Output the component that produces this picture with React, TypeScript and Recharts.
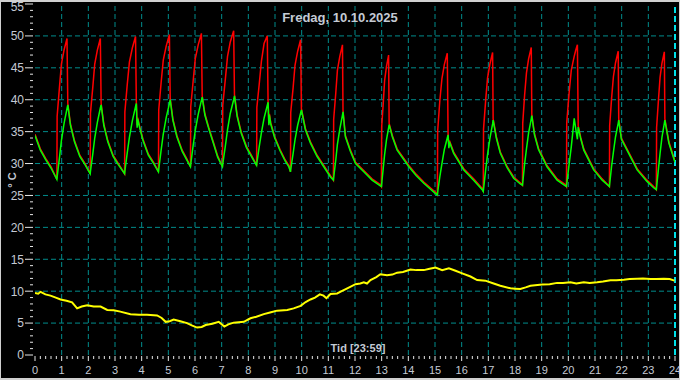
import { LineChart, Line, XAxis, YAxis, ReferenceLine } from "recharts";

// [tid (h), tur °C, retur °C]
const boilerLog: [number, number, number][] = [
  [0, 34.6, 34.4], [0.2, 32.3, 32.1], [0.4, 30.8, 30.6], [0.6, 29.5, 29.3],
  [0.82, 27.5, 27.5], [0.83, 37.4, 27.9], [0.92, 42.1, 31.0], [0.99, 45.6, 33.6], [1.09, 47.8, 36.3], [1.2, 49.6, 38.6], [1.23, 39.4, 39.2],
  [1.33, 36.2, 36.0], [1.48, 33.6, 33.4], [1.68, 31.3, 31.1], [1.88, 30.0, 29.8],
  [2.07, 28.4, 28.4], [2.08, 37.9, 28.8], [2.17, 42.1, 31.6], [2.24, 45.6, 34.0], [2.34, 47.8, 36.5], [2.45, 49.6, 38.7], [2.48, 39.4, 39.2],
  [2.58, 36.2, 36.0], [2.73, 33.6, 33.4], [2.93, 31.3, 31.1], [3.13, 30.0, 29.8],
  [3.36, 28.4, 28.4], [3.37, 38.1, 28.8], [3.46, 42.4, 31.7], [3.54, 45.9, 34.1], [3.65, 48.1, 36.7], [3.77, 49.9, 38.9], [3.8, 39.6, 39.4],
  [3.83, 36.0, 35.6], [3.85, 37.2, 37.0], [3.92, 35.9, 35.7], [4.05, 33.8, 33.6], [4.25, 31.5, 31.3], [4.45, 30.2, 30.0],
  [4.63, 28.7, 28.7], [4.64, 38.4, 29.1], [4.73, 42.7, 32.1], [4.81, 46.2, 34.6], [4.92, 48.4, 37.2], [5.04, 50.2, 39.4], [5.07, 40.2, 40.0],
  [5.17, 37.0, 36.8], [5.32, 34.4, 34.2], [5.52, 32.1, 31.9], [5.7, 30.7, 30.5],
  [5.83, 29.5, 29.5], [5.84, 38.9, 29.9], [5.93, 42.9, 32.8], [6.01, 46.4, 35.2], [6.12, 48.6, 37.7], [6.24, 50.4, 39.9], [6.27, 40.6, 40.4],
  [6.37, 37.8, 37.6], [6.52, 35.6, 35.4], [6.68, 33.5, 33.3], [6.85, 31.2, 31.0],
  [7.03, 29.5, 29.5], [7.04, 39.1, 29.9], [7.14, 43.3, 32.8], [7.22, 46.8, 35.3], [7.32, 49.0, 37.8], [7.45, 50.8, 40.0], [7.48, 40.8, 40.6],
  [7.58, 37.6, 37.4], [7.73, 35.0, 34.8], [7.93, 32.7, 32.5], [8.13, 31.2, 31.0],
  [8.31, 29.7, 29.7], [8.32, 38.8, 30.1], [8.41, 42.5, 32.7], [8.49, 46.0, 34.8], [8.59, 48.8, 37.1], [8.71, 50.0, 39.1], [8.74, 39.8, 39.6],
  [8.77, 36.3, 36.0], [8.79, 37.8, 37.6], [8.84, 36.4, 36.2], [8.99, 34.2, 34.0], [9.19, 32.2, 32.0], [9.38, 30.6, 30.4], [9.52, 29.7, 29.5],
  [9.58, 28.7, 28.7], [9.59, 38.0, 29.1], [9.68, 41.9, 31.6], [9.75, 45.4, 33.7], [9.85, 47.6, 36.0], [9.96, 49.4, 37.9], [9.99, 38.6, 38.4],
  [10.14, 35.5, 35.3], [10.33, 33.4, 33.2], [10.58, 31.3, 31.1], [10.83, 29.7, 29.5], [11.08, 28.1, 27.9],
  [11.19, 27.4, 27.4], [11.2, 36.9, 27.8], [11.28, 41.1, 30.6], [11.34, 44.6, 33.0], [11.43, 46.8, 35.4], [11.53, 48.6, 37.6], [11.55, 38.3, 38.1],
  [11.64, 34.4, 34.2], [11.83, 32.1, 31.9], [12.02, 30.2, 30.0], [12.33, 28.9, 28.7], [12.64, 27.6, 27.4], [12.95, 26.7, 26.5],
  [12.99, 26.4, 26.4], [13.0, 35.7, 26.8], [13.06, 39.5, 29.3], [13.11, 43.0, 31.4], [13.18, 45.2, 33.7], [13.26, 47.0, 35.6], [13.28, 36.3, 36.1],
  [13.4, 34.4, 34.2], [13.58, 32.3, 32.1], [14.02, 29.7, 29.5], [14.3, 28.3, 28.1], [14.58, 27.1, 26.9], [15.02, 25.5, 25.3],
  [15.09, 25.1, 25.1], [15.1, 35.1, 25.5], [15.18, 39.8, 27.9], [15.26, 43.3, 30.0], [15.35, 45.5, 32.2], [15.46, 47.3, 34.0], [15.49, 34.7, 34.5],
  [15.52, 32.6, 32.4], [15.54, 33.6, 33.4], [15.7, 31.8, 31.6], [16.08, 29.2, 29.0], [16.45, 27.6, 27.4], [16.77, 26.1, 25.9],
  [16.81, 25.6, 25.6], [16.82, 35.4, 26.0], [16.9, 39.9, 29.0], [16.97, 43.4, 31.4], [17.06, 45.6, 34.0], [17.16, 47.4, 36.2], [17.18, 37.0, 36.8],
  [17.3, 34.2, 34.0], [17.45, 31.8, 31.6], [17.71, 29.5, 29.3], [17.95, 27.9, 27.7], [18.2, 27.0, 26.8],
  [18.28, 26.6, 26.6], [18.29, 36.3, 27.0], [18.36, 40.7, 29.9], [18.43, 44.2, 32.3], [18.51, 46.4, 34.8], [18.61, 48.2, 37.0], [18.63, 37.7, 37.5],
  [18.73, 34.7, 34.5], [18.88, 32.4, 32.2], [19.2, 29.7, 29.5], [19.58, 27.6, 27.4], [19.89, 26.7, 26.5],
  [19.93, 26.4, 26.4], [19.94, 36.4, 26.8], [20.03, 41.1, 29.9], [20.11, 44.6, 32.6], [20.17, 45.8, 35.0], [20.22, 46.8, 37.1],
  [20.28, 47.8, 35.4], [20.34, 48.6, 33.8], [20.37, 35.9, 35.7],
  [20.47, 34.0, 33.8], [20.58, 32.3, 32.1], [20.95, 29.2, 29.0], [21.27, 27.6, 27.4],
  [21.54, 26.4, 26.4], [21.55, 35.9, 26.8], [21.62, 40.1, 29.5], [21.69, 43.6, 31.8], [21.77, 45.8, 34.2], [21.87, 47.6, 36.3], [21.89, 37.0, 36.8],
  [21.99, 34.0, 33.8], [22.2, 32.3, 32.1], [22.58, 29.2, 29.0], [22.95, 27.4, 27.2], [23.2, 26.4, 26.2],
  [23.3, 25.9, 25.9], [23.31, 35.6, 26.3], [23.38, 40.0, 29.2], [23.44, 43.5, 31.6], [23.51, 45.7, 34.1], [23.6, 47.5, 36.3], [23.62, 37.0, 36.8],
  [23.77, 33.4, 33.2], [23.9, 31.7, 31.5], [24, 30.4, 30.2],
];

// [tid (h), ute °C]
const outdoorLog: [number, number][] = [
  [0, 9.7], [0.12, 9.6], [0.21, 9.9], [0.39, 9.5], [0.58, 9.3], [0.78, 9.0], [0.96, 8.7], [1.18, 8.5], [1.39, 8.25],
  [1.58, 7.3], [1.75, 7.6], [1.96, 7.8], [2.2, 7.6], [2.46, 7.6], [2.71, 7.05], [2.95, 7.0], [3.2, 6.8], [3.58, 6.4],
  [3.9, 6.3], [4.2, 6.3], [4.58, 6.2], [4.75, 5.8], [4.9, 5.2], [5.05, 5.3], [5.2, 5.55], [5.45, 5.3], [5.7, 5.0],
  [5.9, 4.6], [6.08, 4.3], [6.25, 4.4], [6.4, 4.7], [6.65, 4.9], [6.89, 5.2], [7.1, 4.45], [7.25, 4.8], [7.45, 5.07],
  [7.83, 5.2], [8.08, 5.75], [8.3, 6.0], [8.58, 6.4], [8.85, 6.7], [9.08, 6.95], [9.46, 7.05], [9.7, 7.3], [9.96, 7.7],
  [10.15, 8.3], [10.33, 8.7], [10.5, 9.0], [10.68, 9.5], [10.82, 9.3], [10.93, 8.9], [11.08, 9.55], [11.33, 9.65],
  [11.5, 10.0], [11.71, 10.45], [12.02, 11.1], [12.2, 11.2], [12.33, 11.4], [12.45, 11.2], [12.58, 11.75], [12.8, 12.2],
  [12.95, 12.65], [13.2, 12.5], [13.4, 12.6], [13.58, 12.9], [13.8, 13.0], [14.08, 13.4], [14.3, 13.3], [14.58, 13.3],
  [14.8, 13.5], [15.02, 13.7], [15.27, 13.3], [15.52, 13.6], [15.77, 13.2], [16.02, 12.8], [16.33, 12.3], [16.58, 11.75],
  [16.89, 11.65], [17.2, 11.2], [17.45, 10.85], [17.83, 10.45], [18.0, 10.4], [18.2, 10.35], [18.4, 10.6], [18.58, 10.85],
  [19.02, 11.05], [19.3, 11.1], [19.58, 11.3], [19.8, 11.3], [20.08, 11.4], [20.3, 11.2], [20.58, 11.4], [20.8, 11.3],
  [21.08, 11.4], [21.3, 11.5], [21.58, 11.7], [21.8, 11.7], [22.08, 11.8], [22.3, 11.9], [22.58, 11.95], [22.8, 12.0],
  [23.08, 11.9], [23.3, 11.9], [23.58, 11.95], [23.8, 11.9], [23.98, 11.65],
];

const hourLabels = [0, 1, 2, 3, 4, 5, 6, 7, 8, 9, 10, 11, 12, 13, 14, 15, 16, 17, 18, 19, 20, 21, 22, 23, 24];
const degreeLabels = [0, 5, 10, 15, 20, 25, 30, 35, 40, 45, 50, 55];

const gridHours = hourLabels.slice(1, 24);
const gridDegrees = degreeLabels.slice(1, 11);
const xTicks = Array.from({ length: 121 }, (_, i) => Math.round(i * 2) / 10);
const yTicks = Array.from({ length: 56 }, (_, i) => i);

const rows = boilerLog.map(([t, tur, retur]) => ({ t, tur, retur }));
const outdoor = outdoorLog.map(([t, v]) => ({ t, v }));

const FONT = '"Liberation Sans", Arial, sans-serif';
const LABEL = "#c4cad4";
const TICK = "#e6e6e6";
const GRID = "#008c8c";

function XTick({ x, y, payload }: any) {
  const v = payload.value as number;
  const major = Math.abs(v - Math.round(v)) < 1e-6;
  return (
    <g>
      <line x1={x} x2={x} y1={y + 1} y2={y + (major ? 6 : 4)} stroke={TICK} />
      {major && (
        <text x={x} y={y + 19} textAnchor="middle" fill={LABEL} fontSize={11} fontFamily={FONT}>
          {Math.round(v)}
        </text>
      )}
    </g>
  );
}

function YTick({ x, y, payload }: any) {
  const v = payload.value as number;
  const major = v % 5 === 0;
  // top label sits against the frame, nudge it down a little so it stays readable
  const nudge = v === 55 ? 3 : 0;
  return (
    <g>
      <line x1={x - (major ? 10 : 5)} x2={x - 2} y1={y} y2={y} stroke={TICK} />
      {major && (
        <text x={x - 11} y={y + nudge} dy="0.36em" textAnchor="end" fill={LABEL} fontSize={12} fontFamily={FONT}>
          {v}
        </text>
      )}
    </g>
  );
}

export default function App() {
  return (
    <div style={{ position: "absolute", left: 0, top: 0, width: 680, height: 380, background: "#000" }}>
      <LineChart width={680} height={380} data={rows} margin={{ top: 4, right: 5, bottom: 0, left: 0 }}>
        <XAxis
          type="number"
          dataKey="t"
          domain={[0, 24]}
          ticks={xTicks}
          interval={0}
          tick={<XTick />}
          tickLine={false}
          axisLine={false}
          tickSize={0}
          tickMargin={0}
          height={25}
          allowDataOverflow
        />
        <YAxis
          type="number"
          domain={[0, 55]}
          ticks={yTicks}
          interval={0}
          tick={<YTick />}
          tickLine={false}
          axisLine={false}
          tickSize={0}
          tickMargin={0}
          width={35}
          allowDataOverflow
        />
        {gridDegrees.map((d) => (
          <ReferenceLine key={"y" + d} y={d} stroke={GRID} strokeDasharray="5 3" />
        ))}
        {gridHours.map((h) => (
          <ReferenceLine key={"x" + h} x={h} stroke={GRID} strokeDasharray="5 3" />
        ))}
        <ReferenceLine x={24} stroke="#00e0e8" strokeWidth={2} strokeDasharray="6 3" />
        <Line type="linear" dataKey="tur" stroke="#ff0000" strokeWidth={1.5} dot={false} isAnimationActive={false} />
        <Line type="linear" dataKey="retur" stroke="#00ff00" strokeWidth={1.5} dot={false} isAnimationActive={false} />
        <Line type="linear" data={outdoor} dataKey="v" stroke="#ffff00" strokeWidth={2} dot={false} isAnimationActive={false} />
      </LineChart>
      <div
        style={{
          position: "absolute", left: 0, top: 9, width: 680, textAlign: "center",
          font: `bold 13px ${FONT}`, lineHeight: "17px", color: LABEL,
        }}
      >
        Fredag, 10.10.2025
      </div>
      <div
        style={{
          position: "absolute", left: 298, top: 340, width: 120, textAlign: "center",
          font: `bold 11px ${FONT}`, lineHeight: "16px", color: LABEL,
        }}
      >
        Tid [23:59]
      </div>
      <div
        style={{
          position: "absolute", left: 12, top: 180, transform: "translate(-50%, -50%) rotate(-90deg)",
          font: `bold 11px ${FONT}`, lineHeight: "14px", color: LABEL, whiteSpace: "nowrap",
        }}
      >
        ° C
      </div>
      <div
        style={{
          position: "absolute", left: 0, top: 0, width: 680, height: 380, boxSizing: "border-box",
          borderTop: "2px solid #d0d0d0", borderBottom: "2px solid #d0d0d0",
          borderLeft: "1px solid #d0d0d0", borderRight: "1px solid #d0d0d0", pointerEvents: "none",
        }}
      />
    </div>
  );
}
